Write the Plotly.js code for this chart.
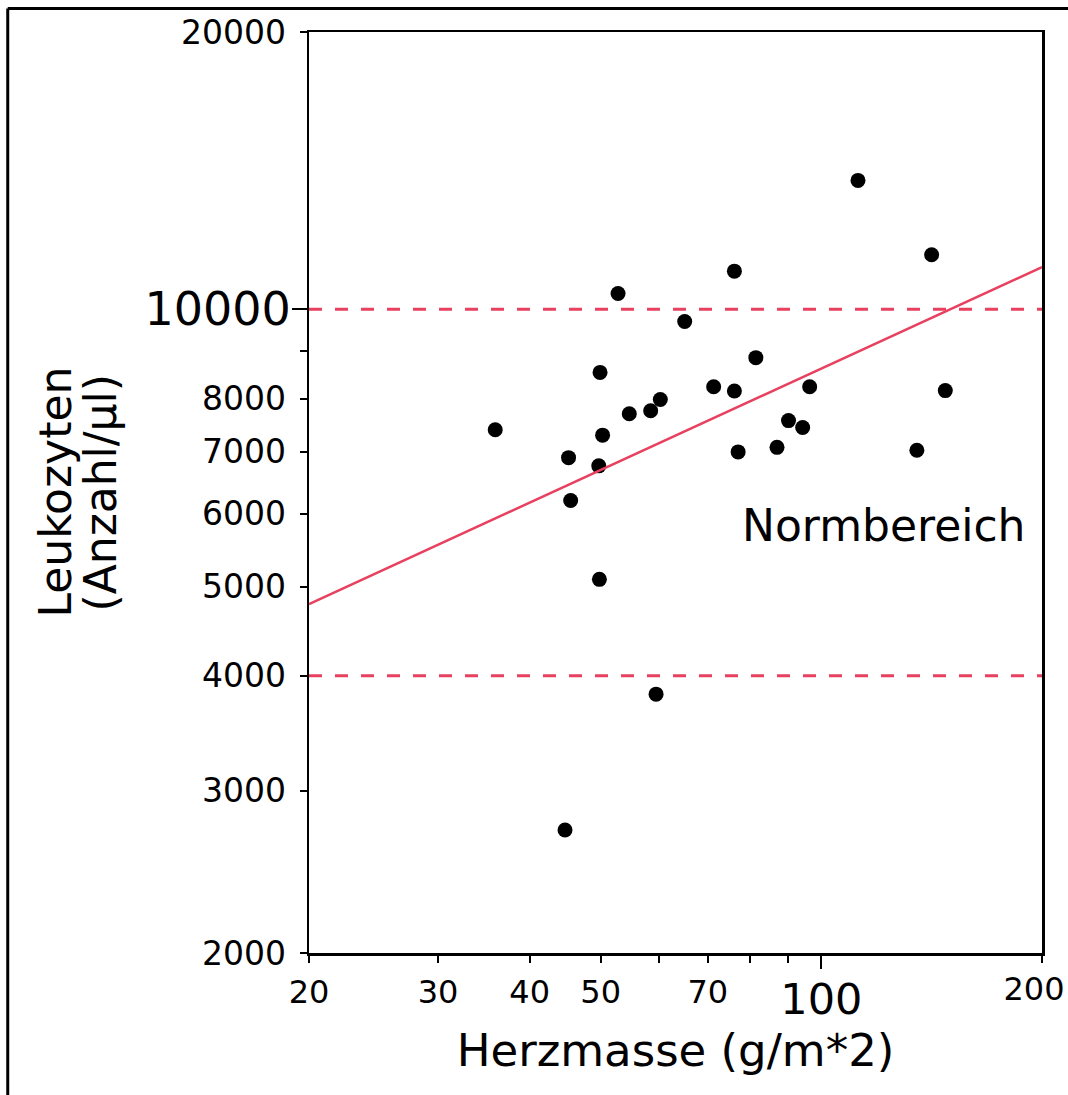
<!DOCTYPE html>
<html>
<head>
<meta charset="utf-8">
<script src="https://cdn.plot.ly/plotly-3.0.1.min.js"></script>
<style>
html,body{margin:0;padding:0;background:#fff;}
#chart{width:1068px;height:1095px;}
</style>
</head>
<body>
<div id="chart"></div>
<script>
// Data
var herzmasse = [35.9, 45.2, 45.5, 44.7, 49.7, 49.9, 50.3, 49.8, 52.8, 54.7, 58.5, 60.3, 59.5, 65.1,
                 71.3, 76.1, 76.1, 77.0, 81.4, 87.0, 90.2, 94.3, 96.4, 112.2, 135.0, 141.4, 147.6];
var leukozyten = [7400, 6900, 6200, 2720, 6760, 8540, 7300, 5090, 10400, 7700, 7760, 7980, 3820, 9700,
                  8240, 11000, 8150, 7000, 8860, 7080, 7570, 7440, 8240, 13800, 7030, 11460, 8160];
var fitX = [20, 200];
var fitY = [4785, 11110];
var normX = [20, 200];
var normOben = [10000, 10000];
var normUnten = [4000, 4000];
var xTickVals = [20, 30, 40, 50, 60, 70, 80, 90, 100, 200];
var xTickText = ['20', '30', '40', '50', '', '70', '', '', '', ''];
var yTickVals = [2000, 3000, 4000, 5000, 6000, 7000, 8000, 9000, 10000, 20000];
var yTickText = ['2000', '3000', '4000', '5000', '6000', '7000', '8000', '', '', '20000'];
var xMajorVals = [100];
var xMajorText = ['100'];
var xEndVals = [200];
var xEndText = ['200'];
var yMajorVals = [10000];
var yMajorText = ['10000'];
var yTitleLines = ['Leukozyten', '(Anzahl/µl)'];

var red = '#e8405f';
var font = 'DejaVu Sans, Verdana, sans-serif';
var xr = [Math.log10(20), Math.log10(200)];
var yr = [Math.log10(2000), Math.log10(20000)];

var traces = [
  {x: normX, y: normOben, mode: 'lines', line: {color: red, width: 3, dash: '13px,13px'}, hoverinfo: 'skip', showlegend: false},
  {x: normX, y: normUnten, mode: 'lines', line: {color: red, width: 3, dash: '13px,13px'}, hoverinfo: 'skip', showlegend: false},
  {x: fitX, y: fitY, mode: 'lines', line: {color: red, width: 2.5}, xaxis: 'x2', yaxis: 'y2', hoverinfo: 'skip', showlegend: false},
  {x: normX, y: normOben, mode: 'lines', line: {width: 0}, opacity: 0, xaxis: 'x3', yaxis: 'y2', hoverinfo: 'skip', showlegend: false},
  {x: herzmasse, y: leukozyten, mode: 'markers', marker: {color: '#000', size: 15}, showlegend: false, cliponaxis: false}
];

var layout = {
  width: 1068, height: 1095,
  margin: {l: 309, r: 26, t: 32, b: 142},
  paper_bgcolor: '#fff', plot_bgcolor: '#fff',
  font: {family: font, color: '#000'},
  showlegend: false,
  xaxis: {
    type: 'log', range: xr, showgrid: false, zeroline: false,
    showline: true, linecolor: '#000', linewidth: 2.5, mirror: true,
    ticks: 'outside', ticklen: 7, tickwidth: 2, tickcolor: '#000',
    tickmode: 'array', tickvals: xTickVals, ticktext: xTickText,
    tickfont: {family: font, size: 32, color: '#000'},
    ticklabelstandoff: 2,
    title: {text: 'Herzmasse (g/m*2)', font: {family: font, size: 45, color: '#000'}, standoff: 25}
  },
  yaxis: {
    type: 'log', range: yr, showgrid: false, zeroline: false,
    showline: true, linecolor: '#000', linewidth: 2.5, mirror: true,
    ticks: 'outside', ticklen: 7, tickwidth: 2, tickcolor: '#000',
    tickmode: 'array', tickvals: yTickVals, ticktext: yTickText,
    tickfont: {family: font, size: 33, color: '#000'},
    ticklabelstandoff: 7
  },
  xaxis2: {
    type: 'log', range: xr, overlaying: 'x', anchor: 'y2', side: 'bottom',
    showgrid: false, zeroline: false, showline: false,
    ticks: 'outside', ticklen: 15, tickwidth: 2, tickcolor: '#000',
    tickmode: 'array', tickvals: xMajorVals, ticktext: xMajorText,
    tickfont: {family: font, size: 43, color: '#000'}, ticklabelstandoff: -7
  },
  xaxis3: {
    type: 'log', range: xr, overlaying: 'x', anchor: 'y2', side: 'bottom',
    showgrid: false, zeroline: false, showline: false,
    ticks: '', tickmode: 'array', tickvals: xEndVals, ticktext: xEndText,
    tickfont: {family: font, size: 32, color: '#000'},
    ticklabelstandoff: 14, ticklabelshift: -8, ticklabeloverflow: 'allow'
  },
  yaxis2: {
    type: 'log', range: yr, overlaying: 'y', anchor: 'x2', side: 'left',
    showgrid: false, zeroline: false, showline: false,
    ticks: 'outside', ticklen: 16, tickwidth: 2, tickcolor: '#000',
    tickmode: 'array', tickvals: yMajorVals, ticktext: yMajorText,
    tickfont: {family: font, size: 46, color: '#000'}, ticklabelstandoff: -8
  },
  annotations: [
    {text: 'Normbereich', xref: 'paper', yref: 'paper', x: 0.784, y: 0.4647,
     xanchor: 'center', yanchor: 'middle', showarrow: false,
     font: {family: font, size: 44, color: '#000'}},
    {text: yTitleLines[0], xref: 'paper', yref: 'paper', x: -0.3465, y: 0.5,
     xanchor: 'center', yanchor: 'middle', textangle: -90, showarrow: false,
     font: {family: font, size: 44, color: '#000'}},
    {text: yTitleLines[1], xref: 'paper', yref: 'paper', x: -0.2851, y: 0.5,
     xanchor: 'center', yanchor: 'middle', textangle: -90, showarrow: false,
     font: {family: font, size: 44, color: '#000'}}
  ],
  shapes: [
    {type: 'line', xref: 'paper', yref: 'paper', x0: -0.411, x1: 1.2, y0: 1.0255, y1: 1.0255, line: {color: '#000', width: 3}},
    {type: 'line', xref: 'paper', yref: 'paper', x0: -0.411, x1: -0.411, y0: -0.3, y1: 1.0255, line: {color: '#000', width: 3}}
  ]
};

Plotly.newPlot('chart', traces, layout, {staticPlot: true});
</script>
</body>
</html>
